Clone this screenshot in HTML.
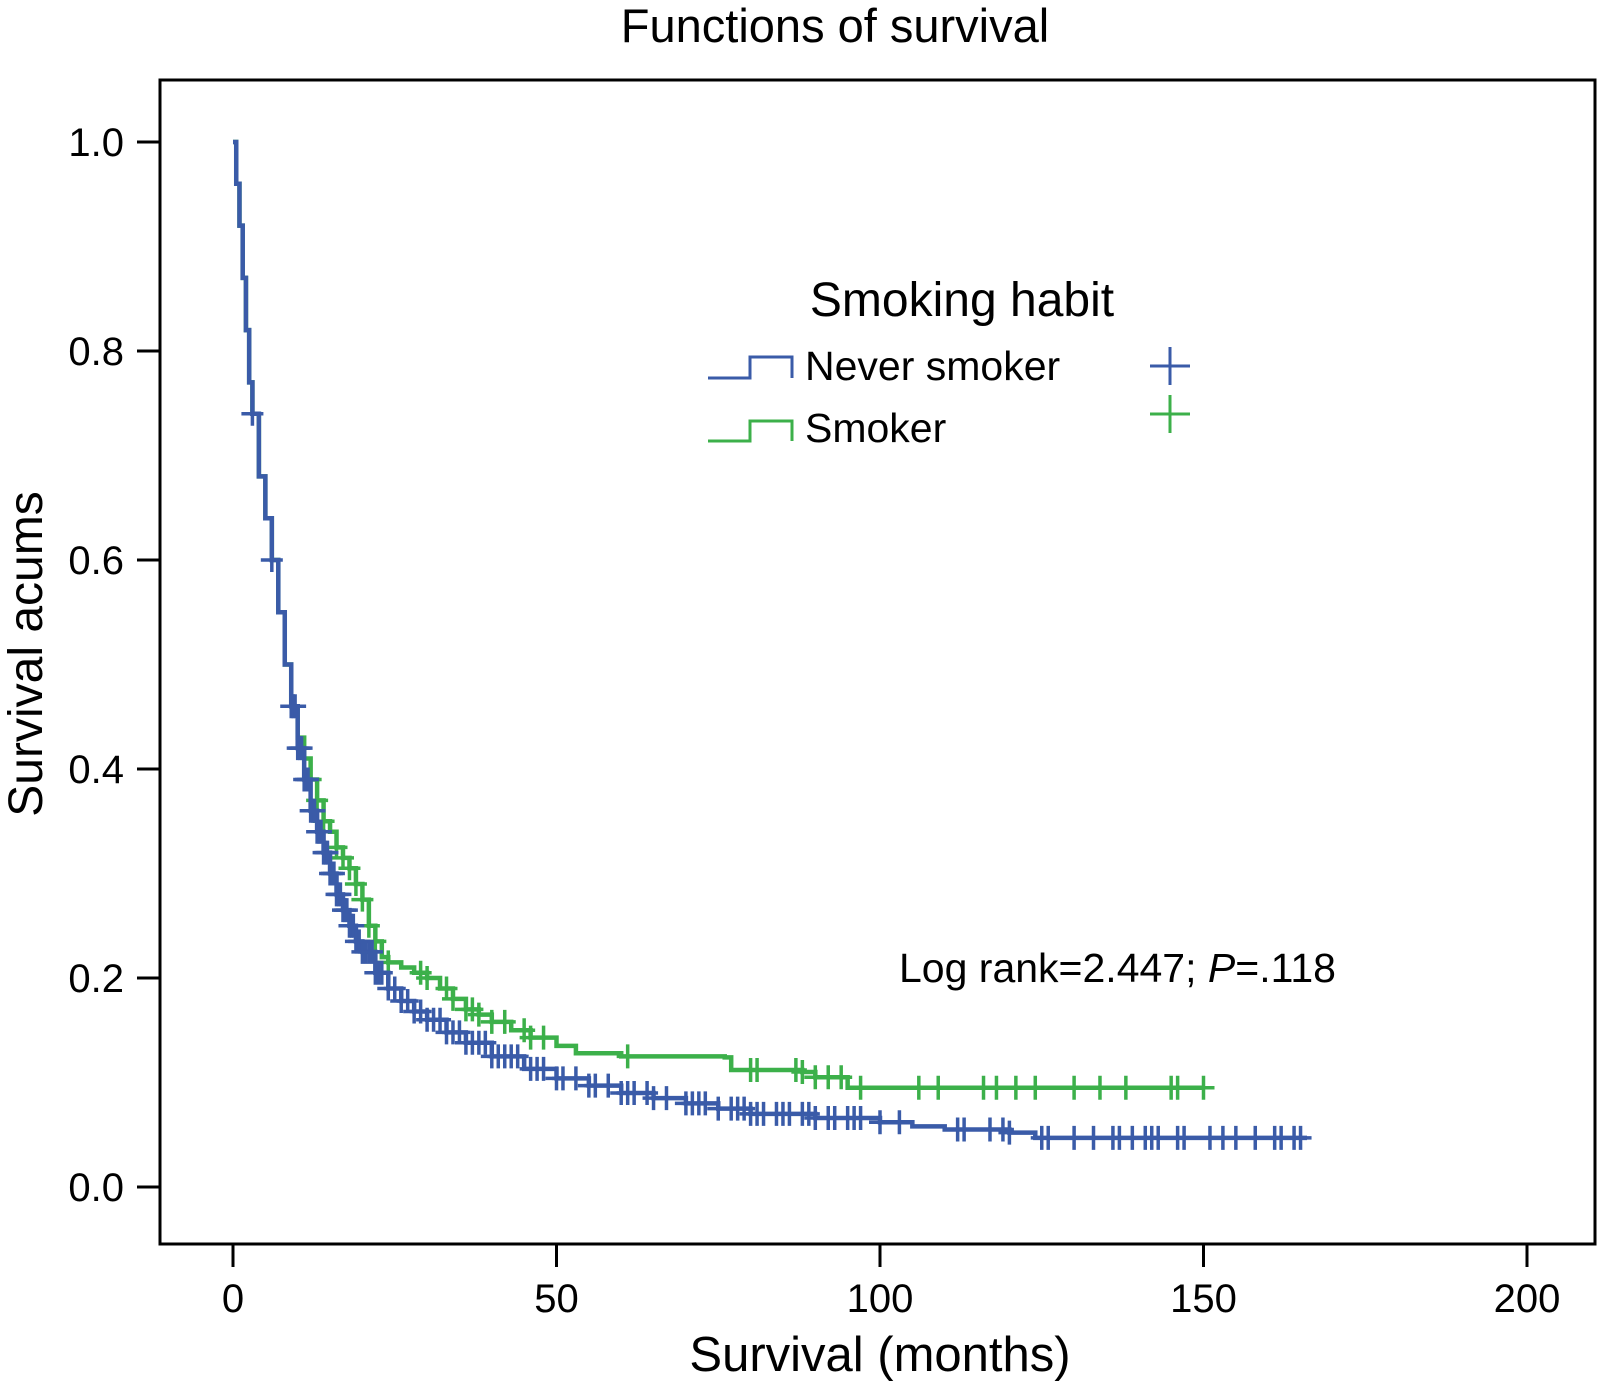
<!DOCTYPE html>
<html><head><meta charset="utf-8"><style>
html,body{margin:0;padding:0;background:#fff}
svg{display:block;font-family:"Liberation Sans",sans-serif}
</style></head><body>
<svg id="chart" width="1601" height="1381" viewBox="0 0 1601 1381">
<text x="835" y="42" font-size="47" text-anchor="middle">Functions of survival</text>
<rect x="160" y="80" width="1435" height="1164" fill="none" stroke="#000" stroke-width="3"/>
<g id="axes"></g>
<g id="series"></g>
<text x="962" y="316" font-size="48" text-anchor="middle">Smoking habit</text>
<path d="M708 378 H750 V357 H792 V378" fill="none" stroke="#3a5ba8" stroke-width="3"/>
<text x="805" y="380" font-size="41">Never smoker</text>
<path d="M708 441 H750 V421 H792 V441" fill="none" stroke="#3cb04a" stroke-width="3"/>
<text x="805" y="442" font-size="41">Smoker</text>
<path d="M1150 366 H1190 M1170 347 V385" stroke="#3a5ba8" stroke-width="3"/>
<path d="M1150 414 H1190 M1170 395 V433" stroke="#3cb04a" stroke-width="3"/>
<text x="899" y="982" font-size="41">Log rank=2.447; <tspan font-style="italic">P</tspan>=.118</text>
<text x="880" y="1371" font-size="49" text-anchor="middle">Survival (months)</text>
<text transform="translate(42,654) rotate(-90)" font-size="48" text-anchor="middle">Survival acums</text>
</svg>
<script>
const xTicks=[0,50,100,150,200];
const yTicks=[0.0,0.2,0.4,0.6,0.8,1.0];
const neverT=[0,0.5,1,1.5,2,2.5,3,4,5,6,7,8,9,10,11,12,13,14,15,16,17,18,19,20,22,24,26,28,30,33,36,40,45,50,55,60,65,70,75,80,90,100,105,110,120,124,166];
const neverS=[1,0.96,0.92,0.87,0.82,0.77,0.74,0.68,0.64,0.6,0.55,0.5,0.46,0.42,0.39,0.36,0.34,0.32,0.3,0.28,0.265,0.25,0.235,0.225,0.205,0.19,0.178,0.168,0.16,0.148,0.138,0.125,0.113,0.104,0.097,0.09,0.085,0.08,0.075,0.07,0.066,0.062,0.058,0.055,0.052,0.047,0.047];
const smokerT=[0,0.5,1,1.5,2,2.5,3,4,5,6,7,8,9,10,11,12,13,14,15,16,17,18,19,20,21,22,23,24,26,28,30,32,34,36,38,40,43,46,50,53,60,76,77,88,90,95,150];
const smokerS=[1,0.96,0.92,0.87,0.82,0.77,0.74,0.68,0.64,0.6,0.55,0.5,0.46,0.43,0.41,0.39,0.37,0.35,0.34,0.325,0.315,0.305,0.29,0.275,0.25,0.235,0.22,0.215,0.21,0.205,0.2,0.19,0.18,0.17,0.165,0.158,0.15,0.143,0.135,0.128,0.125,0.124,0.112,0.11,0.105,0.095,0.095];
const neverCens=[3,6,9,9.3,9.6,10,10.3,10.6,11,11.3,11.6,12,12.3,12.6,13,13.3,13.6,14,14.3,14.6,15,15.3,15.6,16,16.3,16.6,17,17.3,17.6,18,18.3,18.6,19,19.5,20,20.5,21,21.5,22,22.5,23,24,25,26,27,28,29,30,31,32,33,34,35,36,37,38,39,40,41,42,43,44,46,47,48,50,51,53,55,56,58,60,61,62,64,65,67,70,71,72,73,75,77,78,79,80,81,82,84,85,86,88,89,90,92,93,95,96,97,100,103,112,113,117,119,120,125,126,130,133,136,137,139,141,142,143,146,147,151,153,155,158,161,162,164,165];
const smokerCens=[12,13,14,16,17,18,19,20,21,22,24,29,30,33,34,36,37,38,40,42,45,46,48,61,80,81,87,88,90,92,94,97,106,109,116,118,121,124,130,134,138,145,146,150];
const X=v=>233+v*(1527-233)/200;
const Y=v=>1187-v*(1187-142);
const NS='http://www.w3.org/2000/svg';
function mk(tag,attrs,parent){const e=document.createElementNS(NS,tag);for(const k in attrs)e.setAttribute(k,attrs[k]);parent.appendChild(e);return e;}
const axes=document.getElementById('axes');
xTicks.forEach(t=>{
  const l=mk('line',{x1:X(t),x2:X(t),y1:1244,y2:1267,stroke:'#000','stroke-width':3},axes);
  
  
  const tx=mk('text',{x:X(t),y:1312,'font-size':40,'text-anchor':'middle'},axes);
  tx.textContent=t;
  
  
});
yTicks.forEach(t=>{
  const l=mk('line',{x1:137,x2:160,y1:Y(t),y2:Y(t),stroke:'#000','stroke-width':3},axes);
  
  
  const tx=mk('text',{x:124,y:Y(t)+14,'font-size':40,'text-anchor':'end'},axes);
  tx.textContent=t.toFixed(1);
  
  
});
function sAt(T,S,t){let v=S[0];for(let i=0;i<T.length;i++){if(T[i]<=t)v=S[i];}return v;}
const series=document.getElementById('series');
function draw(T,S,C,color,name){
  let d='M'+X(T[0])+' '+Y(S[0]);
  for(let i=1;i<T.length;i++){d+=' H'+X(T[i])+' V'+Y(S[i]);}
  const p=mk('path',{d:d,fill:'none',stroke:color,'stroke-width':4.5},series);
  
  
  C.forEach(c=>{
    const x=X(c),y=Y(sAt(T,S,c));
    const m=mk('path',{d:`M${x-11} ${y} H${x+11} M${x} ${y-12} V${y+12}`,stroke:color,'stroke-width':3.5},series);
    
    
  });
}
draw(smokerT,smokerS,smokerCens,'#3cb04a','smoker');
draw(neverT,neverS,neverCens,'#3a5ba8','never-smoker');
</script>
</body></html>
